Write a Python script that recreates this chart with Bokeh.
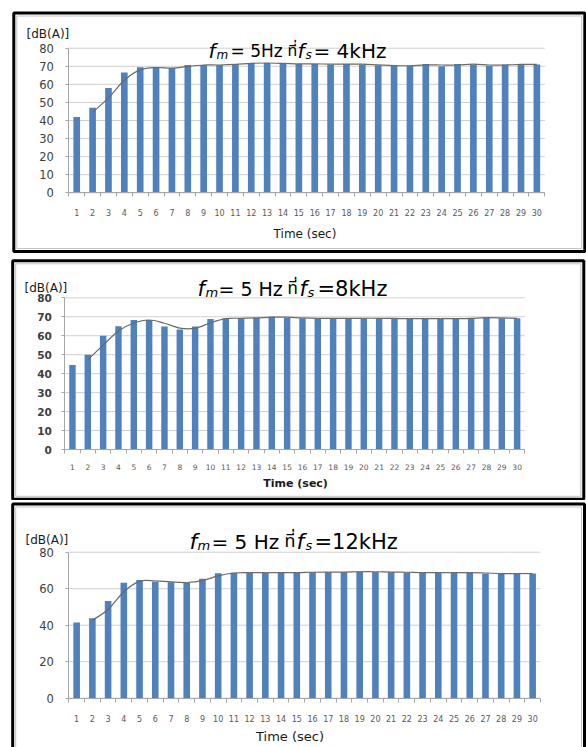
from bokeh.plotting import figure
from bokeh.models import Range1d, FixedTicker, Label, BoxAnnotation, ColumnDataSource, LinearAxis
from bokeh.layouts import column
from bokeh.embed import file_html
from bokeh.resources import INLINE

# ---------------- data ----------------
seconds = [1, 2, 3, 4, 5, 6, 7, 8, 9, 10, 11, 12, 13, 14, 15,
           16, 17, 18, 19, 20, 21, 22, 23, 24, 25, 26, 27, 28, 29, 30]

# fs = 4 kHz
level_4k = [42, 47, 58, 66.5, 69.5, 69, 69, 70.7, 70.7, 70.7, 71.3, 71.8, 71.8, 71.3, 71.3,
            71.3, 71, 71.3, 71, 70.5, 70.3, 70.3, 71.3, 70, 71.3, 71, 70.3, 71, 71, 71]
# trend line (2-point moving average), values for seconds 2..30
trend_4k = [44.5, 52.5, 62.3, 68, 69.3, 69, 69.9, 70.7, 70.7, 71, 71.6, 71.8, 71.6, 71.3,
            71.3, 71.2, 71.2, 71.2, 70.8, 70.4, 70.3, 70.8, 70.7, 70.7, 71.2, 70.7, 70.7, 71, 71]

# fs = 8 kHz
level_8k = [44.5, 50, 60, 65, 68.3, 68.3, 64.8, 63.3, 64.8, 68.8, 69.2, 69.2, 69.5, 70, 69.5,
            69.2, 69.2, 69.2, 69.2, 69.2, 69.2, 69, 69, 69, 69, 69, 69.3, 69.6, 69.2, 69.2]
trend_8k = [47.3, 55, 62.5, 66.7, 68.3, 66.6, 64, 64, 66.8, 69, 69.2, 69.4, 69.8, 69.8,
            69.4, 69.2, 69.2, 69.2, 69.2, 69.2, 69.1, 69, 69, 69, 69, 69.2, 69.5, 69.4, 69.2]

# fs = 12 kHz
level_12k = [41.5, 43.8, 53.3, 63.3, 64.7, 63.8, 63.5, 63.3, 65.5, 68.4, 68.8, 68.8, 68.8, 68.8, 68.8,
             69.1, 69.1, 69.1, 69.4, 69.1, 69.1, 68.8, 68.8, 68.8, 68.8, 68.8, 68.3, 68.3, 68.3, 68.3]
trend_12k = [42.7, 48.6, 58.3, 64, 64.3, 63.7, 63.4, 64.4, 67, 68.6, 68.8, 68.8, 68.8, 68.8,
             69, 69.1, 69.1, 69.3, 69.3, 69.1, 69, 68.8, 68.8, 68.8, 68.8, 68.6, 68.3, 68.3, 68.3]

yticks_10 = [0, 10, 20, 30, 40, 50, 60, 70, 80]
yticks_20 = [0, 20, 40, 60, 80]
y_unit = "[dB(A)]"
x_title = "Time (sec)"

# ---------------- style ----------------
BAR = "#4F81BD"
GRID = "#D0D0D0"
AXIS = "#A6A6A6"
TREND = "#6A6A6A"
FONT = "DejaVu Sans"
THAI = "'Noto Sans Thai', 'Noto Sans', 'DejaVu Sans'"
W = 586          # canvas width of every panel
PAGE_LEFT = 0


class Panel:
    def __init__(self, top, H, L, T, R, B, yticks):
        # top/H: figure position & height on the page; L,T,R,B: plot-area box on the page
        self.top, self.H = top, H
        ppx = (R - L) / 30.0
        ppy = (B - T) / 80.0
        x0 = 0.5 - (L - PAGE_LEFT) / ppx
        x1 = 30.5 + (PAGE_LEFT + W - R) / ppx
        y1 = 80 + (T - top) / ppy
        y0 = -(top + H - B) / ppy
        p = figure(width=W, height=H, min_border=0,
                   min_border_left=0, min_border_right=0, min_border_top=0, min_border_bottom=0,
                   x_range=Range1d(x0, x1), y_range=Range1d(y0, y1),
                   x_axis_type=None, y_axis_type=None,
                   output_backend="svg", toolbar_location=None, tools="")
        p.background_fill_color = "white"
        p.border_fill_color = "white"
        p.outline_line_color = None
        p.xgrid.grid_line_color = None
        p.ygrid.grid_line_color = None
        self.p = p
        self.yticks = yticks

    def put(self, px, py, text, size, style="normal", color="#000000",
            align="left", baseline="alphabetic", font=FONT):
        self.p.add_layout(Label(x=px - PAGE_LEFT, y=self.top + self.H - py,
                                x_units="screen", y_units="screen",
                                text=text, text_font=font, text_font_size=f"{size}px",
                                text_font_style=style, text_color=color,
                                text_align=align, text_baseline=baseline))

    def box(self, left, top, right, bottom, color, width):
        b = self.top + self.H
        self.p.add_layout(BoxAnnotation(left=left - PAGE_LEFT, right=right - PAGE_LEFT,
                                        top=b - top, bottom=b - bottom,
                                        left_units="screen", right_units="screen",
                                        top_units="screen", bottom_units="screen",
                                        fill_color=None, fill_alpha=0,
                                        line_color=color, line_width=width, line_alpha=1))

    def border(self, left, top, right, bottom):
        self.box(left + 3, top + 3, right - 3, bottom - 3, "#C4C4C4", 1)
        self.box(left, top, right, bottom, "black", 3)

    def chart(self, values, trend, ylab_size, ylab_style, ylab_standoff, xlab_size, xlab_standoff):
        p = self.p
        # horizontal grid lines over the plot area only
        p.segment(x0=[0.5] * len(self.yticks), x1=[30.5] * len(self.yticks),
                  y0=self.yticks, y1=self.yticks, line_color=GRID, line_width=1)

        p.vbar(x=seconds, top=values, width=0.42, fill_color=BAR, line_color=None)

        # smooth trend line through the moving-average points
        tx = seconds[1:]
        n = len(tx)
        src = dict(x0=[], y0=[], x1=[], y1=[], cx0=[], cy0=[], cx1=[], cy1=[])
        for i in range(n - 1):
            a = max(i - 1, 0)
            b = min(i + 2, n - 1)
            src["x0"].append(tx[i]); src["y0"].append(trend[i])
            src["x1"].append(tx[i + 1]); src["y1"].append(trend[i + 1])
            src["cx0"].append(tx[i] + (tx[i + 1] - tx[a]) / 6)
            src["cy0"].append(trend[i] + (trend[i + 1] - trend[a]) / 6)
            src["cx1"].append(tx[i + 1] - (tx[b] - tx[i]) / 6)
            src["cy1"].append(trend[i + 1] - (trend[b] - trend[i]) / 6)
        p.bezier(x0="x0", y0="y0", x1="x1", y1="y1", cx0="cx0", cy0="cy0", cx1="cx1", cy1="cy1",
                 source=ColumnDataSource(src), line_color=TREND, line_width=1.2)

        # x axis, pinned at y = 0
        xa = LinearAxis(fixed_location=0, bounds=(0.5, 30.5))
        xa.ticker = FixedTicker(ticks=seconds, minor_ticks=[s - 0.5 for s in seconds] + [30.5])
        xa.axis_line_color = AXIS
        xa.major_tick_line_color = None
        xa.major_tick_out = 0
        xa.major_tick_in = 0
        xa.minor_tick_line_color = AXIS
        xa.minor_tick_out = 4
        xa.minor_tick_in = 0
        xa.major_label_standoff = xlab_standoff
        xa.major_label_text_font = FONT
        xa.major_label_text_font_size = xlab_size
        xa.major_label_text_color = "#595959"
        p.add_layout(xa, "below")

        # y axis, pinned at x = 0.5
        ya = LinearAxis(fixed_location=0.5, bounds=(0, 80))
        ya.ticker = FixedTicker(ticks=self.yticks)
        ya.axis_line_color = AXIS
        ya.major_tick_line_color = AXIS
        ya.major_tick_out = 3
        ya.major_tick_in = 0
        ya.minor_tick_line_color = None
        ya.major_label_standoff = ylab_standoff
        ya.major_label_text_font = FONT
        ya.major_label_text_font_size = ylab_size
        ya.major_label_text_font_style = ylab_style
        ya.major_label_text_color = "#404040"
        p.add_layout(ya, "left")

    def title(self, base, pieces):
        # pieces: (text, left x, size, kind)  kind: "f" italic symbol, "sub" subscript, "txt", "thai"
        for text, x, size, kind in pieces:
            if kind == "f":
                self.put(x, base, text, size, "italic")
            elif kind == "sub":
                self.put(x, base + 4, text, size, "italic")
            elif kind == "thai":
                self.put(x, base, text, size, font=THAI)
            else:
                self.put(x, base, text, size)


# ---------- panel 1 : fs = 4 kHz ----------
a = Panel(0, 257, 68.3, 47.7, 544.3, 192.3, yticks_10)
a.chart(level_4k, trend_4k, "11.5px", "normal", 12, "8px", 12)
a.border(13.3, 12.5, 584.3, 251)
a.put(26, 33.5, y_unit, 12, baseline="middle", color="#1a1a1a")
a.title(50, [("f", 208, 20, "f"), ("m", 216, 12, "sub"), ("= 5Hz", 230, 17, "txt"),
             ("ที่", 287, 16, "thai"), ("f", 297, 20, "f"), ("s", 305, 12, "sub"),
             ("= 4kHz", 313, 20, "txt")])
a.put(304.5, 233, x_title, 12, align="center", baseline="middle", color="#1a1a1a")

# ---------- panel 2 : fs = 8 kHz ----------
b = Panel(257, 243, 64.3, 297.3, 524.3, 449, yticks_10)
b.chart(level_8k, trend_8k, "10.5px", "bold", 10, "7.5px", 10)
b.border(12.2, 260.3, 583.3, 498.8)
b.put(24, 287, y_unit, 12, baseline="middle", color="#1a1a1a")
b.title(288, [("f", 197, 21, "f"), ("m", 205, 13, "sub"), ("= 5 Hz", 218, 19, "txt"),
              ("ที่", 287, 17, "thai"), ("f", 299, 21, "f"), ("s", 307, 13, "sub"),
              ("=8kHz", 317, 21, "txt")])
b.put(297, 483, "Time  (sec)", 11, style="bold", align="center", baseline="middle", color="#1a1a1a")

# ---------- panel 3 : fs = 12 kHz ----------
c = Panel(500, 247, 68.3, 551.7, 540, 697.7, yticks_20)
c.chart(level_12k, trend_12k, "11.5px", "normal", 12, "8px", 13)
c.border(12.2, 503.5, 584, 760)
c.put(25, 539, y_unit, 12, baseline="middle", color="#1a1a1a")
c.title(541, [("f", 189, 22, "f"), ("m", 197, 13, "sub"), ("= 5 Hz", 211, 20, "txt"),
              ("ที่", 284, 18, "thai"), ("f", 296, 22, "f"), ("s", 305, 13, "sub"),
              ("=12kHz", 314, 21, "txt")])
c.put(289.5, 736, x_title, 13, align="center", baseline="middle", color="#1a1a1a")

layout = column(a.p, b.p, c.p, spacing=0)
open("out.html", "w").write(file_html(layout, INLINE))
